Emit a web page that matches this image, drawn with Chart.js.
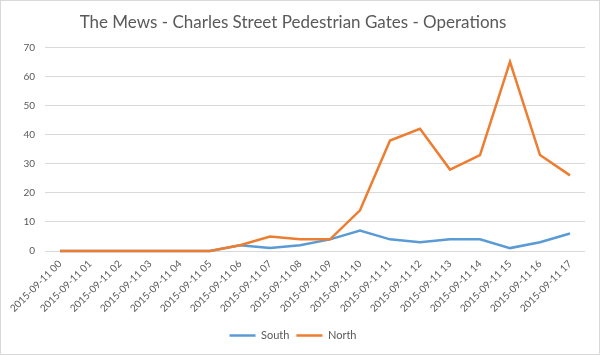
<!DOCTYPE html>
<html><head><meta charset="utf-8">
<script src="https://cdn.jsdelivr.net/npm/chart.js@4"></script>
<style>
html,body{margin:0;padding:0;background:#fff;}
#wrap{width:600px;height:355px;box-sizing:border-box;border:1px solid #d9d9d9;position:relative;}
canvas{display:block;}
</style></head>
<body><div id="wrap"><canvas id="c" width="598" height="353"></canvas></div>
<script>
const categories = ["2015-09-11 00","2015-09-11 01","2015-09-11 02","2015-09-11 03","2015-09-11 04","2015-09-11 05","2015-09-11 06","2015-09-11 07","2015-09-11 08","2015-09-11 09","2015-09-11 10","2015-09-11 11","2015-09-11 12","2015-09-11 13","2015-09-11 14","2015-09-11 15","2015-09-11 16","2015-09-11 17"];
const south = [0,0,0,0,0,0,2,1,2,4,7,4,3,4,4,1,3,6];
const north = [0,0,0,0,0,0,2,5,4,4,14,38,42,28,33,65,33,26];
const yTicks = [0,10,20,30,40,50,60,70];
const titleText = "The Mews - Charles Street Pedestrian Gates - Operations";
const fontFam = "Lato, 'Open Sans', sans-serif";
new Chart(document.getElementById('c'), {
  type: 'line',
  data: {
    labels: categories,
    datasets: [
      {label:'South', data: south, borderColor:'#5B9BD5', backgroundColor:'#5B9BD5', borderWidth:2.5, pointRadius:0, pointStyle:'line', tension:0, clip:false, order:2},
      {label:'North', data: north, borderColor:'#ED7D31', backgroundColor:'#ED7D31', borderWidth:2.5, pointRadius:0, pointStyle:'line', tension:0, clip:false, order:1}
    ]
  },
  options: {
    responsive:false, animation:false,
    layout:{padding:{left:0,right:14,top:0,bottom:3}},
    plugins:{
      title:{display:true, text:titleText, color:'#595959', font:{family:fontFam, size:17, weight:'normal'}, padding:{top:11,bottom:15}},
      legend:{position:'bottom', labels:{usePointStyle:true, pointStyleWidth:26, color:'#595959', font:{family:fontFam,size:11}, padding:7,
        sort:(a,b)=>a.datasetIndex-b.datasetIndex}},
      tooltip:{enabled:false}
    },
    scales:{
      x:{offset:true, grid:{display:false, drawTicks:false}, border:{display:false},
         ticks:{color:'#595959', font:{family:fontFam,size:10}, minRotation:45, maxRotation:45, autoSkip:false, padding:7},
         afterFit(s){ s.height = 72; }},
      y:{min:0,max:70, afterBuildTicks(s){ s.ticks = yTicks.map(v=>({value:v})); },
         grid:{color:'#d9d9d9', lineWidth:1, drawTicks:false}, border:{display:false},
         ticks:{color:'#595959', font:{family:fontFam,size:10}, padding:10},
         afterFit(s){ s.width = 44; }}
    }
  }
});
</script></body></html>
